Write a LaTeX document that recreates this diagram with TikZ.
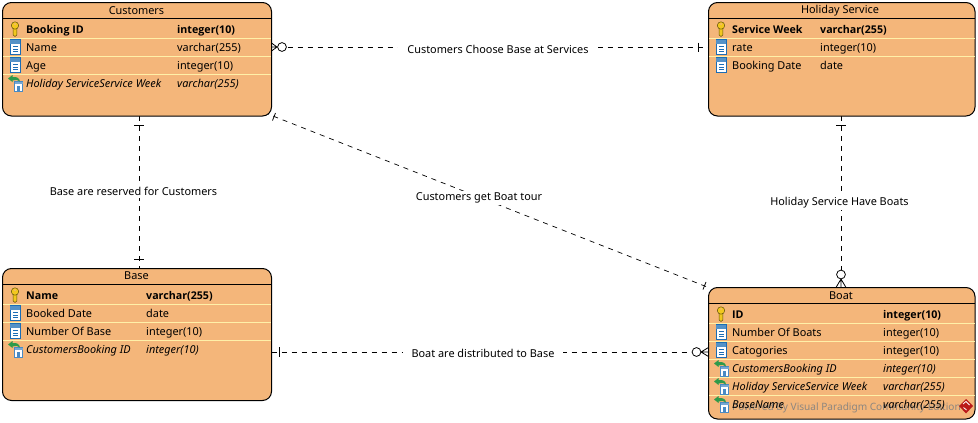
\documentclass[tikz,border=0pt]{standalone}
\usepackage{fontspec}
\setmainfont{Noto Sans}
\newfontfamily\boldface{Open Sans}[Scale=0.98]
\definecolor{ent}{HTML}{F4B67A}
\definecolor{sepc}{HTML}{FFF0A8}
\definecolor{keyc}{HTML}{F2C81E}
\definecolor{colb}{HTML}{1C6DB5}
\definecolor{fkg}{HTML}{2E9A4A}
\definecolor{wm}{HTML}{8C8680}
\tikzset{
  x=1pt,y=-1pt,
  entity/.style={draw=black,line width=1pt,fill=ent,rounded corners=9pt},
  sepline/.style={draw=sepc,line width=.8pt},
  headline/.style={draw=black,line width=1pt},
  enttitle/.style={font=\fontsize{10.9}{12}\selectfont,inner sep=0pt,anchor=center},
  fld/.style={font=\fontsize{10.9}{12}\selectfont,inner sep=0pt,anchor=base west,text height=8pt,text depth=2pt},
  pk/.style={fld,font=\fontsize{10.9}{12}\boldface\bfseries\selectfont},
  fk/.style={fld,font=\fontsize{10.9}{12}\selectfont\itshape},
  wmtext/.style={fld,font=\fontsize{10.1}{12}\selectfont,text=wm},
  rel/.style={draw=black,line width=.7pt,dash pattern=on 5pt off 5pt},
  endmark/.style={draw=black,line width=.8pt},
  lab/.style={font=\fontsize{10.9}{12}\selectfont,fill=white,inner xsep=9pt,inner ysep=2pt},
  pics/keyicon/.style={code={
    \draw[draw=black!60!keyc,fill=keyc,line width=.5pt] (-1.8,-3) -- (-1.8,6) -- (0,7.5) -- (1.8,6) -- (1.8,-3) -- cycle;
    \draw[draw=black!60!keyc,fill=keyc,line width=.5pt] (0,-3.5) circle (3.7);
    \fill[ent] (0,-5) circle (1);
  }},
  pics/colicon/.style={code={
    \draw[draw=colb,fill=white,line width=1pt] (-5,-7.5) rectangle (5,7.5);
    \fill[colb!75] (-5,-7.5) rectangle (5,-3);
    \foreach \q in {-1,1.5,4}{\fill[colb] (-2.5,\q) rectangle (2.5,\q+1.2);}
  }},
  pics/fkicon/.style={code={
    \draw[draw=colb!80,fill=white,line width=.6pt] (-1.5,-1.5) rectangle (6.5,8.5);
    \fill[colb!60] (-1.5,-1.5) rectangle (6.5,1);
    \fill[colb!80] (1,3) rectangle (4,8);
    \fill[fkg] (-8,-4.5) -- (-3.5,-8) -- (-3.5,-6) .. controls (1,-6.5) and (3.5,-5) .. (4,-1.5) .. controls (2,-3.5) and (-1,-3.5) .. (-3.5,-2.5) -- (-3.5,-1) -- cycle;
  }},
}
\begin{document}
\begin{tikzpicture}
\useasboundingbox (0,0) rectangle (978,423);
\fill[white] (0,0) rectangle (978,423);
% connectors first
\coordinate (cr) at (271.5,47);
\coordinate (hl) at (708.5,47);
\coordinate (cb) at (139,116);
\coordinate (bt) at (139,268.5);
\coordinate (cd) at (264,112.5);
\coordinate (bd) at (708.5,287.5);
\coordinate (hb) at (841,116);
\coordinate (ot) at (841,287.5);
\coordinate (br) at (271.5,352);
\coordinate (ol) at (708.5,352);
\draw[rel] (287.5,47) -- (hl);
\draw[rel] (cb) -- (bt);
\draw[rel] (cd) -- (bd);
\draw[rel] (hb) -- (841,275);
\draw[rel] (br) -- (692,352);
% end marks
\draw[endmark] (cr) -- (277,47) (271.5,43) -- (277,47) -- (271.5,51);
\draw[endmark,fill=white] (282,47) circle (4.4);
\draw[endmark] (698,42.5) -- (698,51.5);
\draw[endmark] (134,125) -- (144,125);
\draw[endmark] (134,259) -- (144,259);
\draw[endmark] (275.5,113) -- (272.5,120.5);
\draw[endmark] (706,282) -- (703,289.5);
\draw[endmark] (836,125) -- (846,125);
\draw[endmark] (ot) -- (841,279) (836,287.5) -- (841,279) -- (846,287.5);
\draw[endmark,fill=white] (841,274.5) circle (4.4);
\draw[endmark] (279.5,347) -- (279.5,357);
\draw[endmark] (ol) -- (701,352) (708.5,347.5) -- (701,352) -- (708.5,356.5);
\draw[endmark,fill=white] (696.5,352) circle (4.4);
% labels
\node[lab] (l1) at (498,49) {Customers Choose Base at Services};
\node[lab] (l2) at (133.5,191.5) {Base are reserved for Customers};
\node[lab] (l3) at (479,198) {Customers get Boat tour};
\node[lab] (l4) at (839.5,202.5) {Holiday Service Have Boats};
\node[lab] (l5) at (483,353) {Boat are distributed to Base};
% Customers
\draw[entity] (2.5,2.5) rectangle (271.5,116);
\node[enttitle] (c0) at (136.5,10.5) {Customers};
\draw[headline] (2.5,18.5) -- (271.5,18.5);
\draw[sepline] (3,38.5) -- (271,38.5) (3,56.5) -- (271,56.5) (3,74.5) -- (271,74.5);
\pic at (15,29) {keyicon};
\pic at (15,47) {colicon};
\pic at (15,65) {colicon};
\pic at (16,83) {fkicon};
\node[pk] (c1) at (26,33) {Booking ID};
\node[pk] (c1t) at (177,33) {integer(10)};
\node[fld] (c2) at (26,51) {Name};
\node[fld] (c2t) at (177,51) {varchar(255)};
\node[fld] (c3) at (26,69) {Age};
\node[fld] (c3t) at (177,69) {integer(10)};
\node[fk] (c4) at (26,87) {Holiday ServiceService Week};
\node[fk] (c4t) at (177,87) {varchar(255)};
% Holiday Service
\draw[entity] (708.5,2.5) rectangle (975,116);
\node[enttitle] (h0) at (840,10.5) {Holiday Service};
\draw[headline] (708.5,18.5) -- (975,18.5);
\draw[sepline] (709,38.5) -- (974.5,38.5) (709,56.5) -- (974.5,56.5);
\pic at (721,29) {keyicon};
\pic at (721,47) {colicon};
\pic at (721,65) {colicon};
\node[pk] (h1) at (732,33) {Service Week};
\node[pk] (h1t) at (820,33) {varchar(255)};
\node[fld] (h2) at (732,51) {rate};
\node[fld] (h2t) at (820,51) {integer(10)};
\node[fld] (h3) at (732,69) {Booking Date};
\node[fld] (h3t) at (820,69) {date};
% Base
\draw[entity] (2.5,268.5) rectangle (271.5,400.5);
\node[enttitle] (b0) at (136.5,276) {Base};
\draw[headline] (2.5,284.5) -- (271.5,284.5);
\draw[sepline] (3,304.5) -- (271,304.5) (3,322.5) -- (271,322.5) (3,340.5) -- (271,340.5);
\pic at (15,295) {keyicon};
\pic at (15,313) {colicon};
\pic at (15,331) {colicon};
\pic at (16,349) {fkicon};
\node[pk] (b1) at (26,299) {Name};
\node[pk] (b1t) at (146,299) {varchar(255)};
\node[fld] (b2) at (26,317) {Booked Date};
\node[fld] (b2t) at (146,317) {date};
\node[fld] (b3) at (26,335) {Number Of Base};
\node[fld] (b3t) at (146,335) {integer(10)};
\node[fk] (b4) at (26,353) {CustomersBooking ID};
\node[fk] (b4t) at (146,353) {integer(10)};
% Boat
\draw[entity] (708.5,287.5) rectangle (975,419);
\node[enttitle] (o0) at (841,295.5) {Boat};
\draw[headline] (708.5,303.5) -- (975,303.5);
\draw[sepline] (709,323.5) -- (974.5,323.5) (709,341.5) -- (974.5,341.5) (709,359.5) -- (974.5,359.5) (709,377.5) -- (974.5,377.5) (709,395.5) -- (974.5,395.5);
\pic at (721,314) {keyicon};
\pic at (721,332) {colicon};
\pic at (721,350) {colicon};
\pic at (722,368) {fkicon};
\pic at (722,386) {fkicon};
\pic at (722,404) {fkicon};
% watermark under the last row, as in the reference
\node[wmtext] (wmk) at (732,410) {Powered By Visual Paradigm Community Edition};
\node[pk] (o1) at (732,318) {ID};
\node[pk] (o1t) at (883,318) {integer(10)};
\node[fld] (o2) at (732,336) {Number Of Boats};
\node[fld] (o2t) at (883,336) {integer(10)};
\node[fld] (o3) at (732,354) {Catogories};
\node[fld] (o3t) at (883,354) {integer(10)};
\node[fk] (o4) at (732,372) {CustomersBooking ID};
\node[fk] (o4t) at (883,372) {integer(10)};
\node[fk] (o5) at (732,390) {Holiday ServiceService Week};
\node[fk] (o5t) at (883,390) {varchar(255)};
\node[fk] (o6) at (732,408) {BaseName};
\node[fk] (o6t) at (883,408) {varchar(255)};
\fill[red!70!black!90] (966,399) -- (973,406) -- (966,413.5) -- (959,406) -- cycle;
\draw[white,line width=.8pt] (963,404) -- (966,401.5) -- (969.5,405) (963.5,407.5) -- (966.5,410);
\end{tikzpicture}
\end{document}
